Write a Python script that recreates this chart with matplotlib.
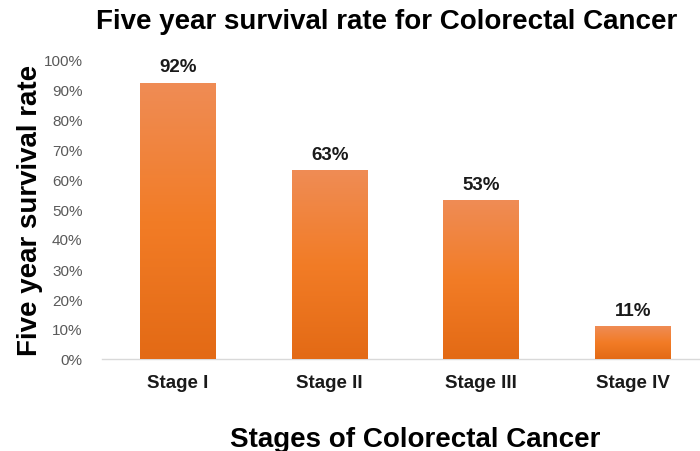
import matplotlib
matplotlib.use("Agg")
import matplotlib.pyplot as plt
import numpy as np
from matplotlib.colors import LinearSegmentedColormap
from matplotlib.ticker import PercentFormatter

categories = ["Stage I", "Stage II", "Stage III", "Stage IV"]
values = [92, 63, 53, 11]
labels = ["92%", "63%", "53%", "11%"]

plt.rcParams['font.family'] = ['Liberation Sans', 'DejaVu Sans']

fig = plt.figure(figsize=(7, 4.52), dpi=100)
ax = fig.add_axes([102/700, 1 - 360/452, 607/700, 300/452])

x = np.arange(len(categories))
bars = ax.bar(x, values, width=0.5, color="#F07A25", zorder=2)
cmap = LinearSegmentedColormap.from_list("g", ["#E36A15", "#F27C26", "#EF8C55"])
grad = np.linspace(0, 1, 256).reshape(-1, 1)
for i, b in enumerate(bars):
    bx, by = b.get_x(), b.get_y()
    w, h = b.get_width(), b.get_height()
    im = ax.imshow(grad, cmap=cmap, origin="lower", aspect="auto",
                   extent=[bx, bx + w, by, by + h], zorder=3)
    im.set_clip_path(b)
    ax.text(bx + w / 2, h + 2.5, labels[i], ha="center",
            va="bottom", fontsize=13.5, fontweight="bold", color="#1a1a1a")

ax.set_xlim(-0.5, 3.5)
ax.set_ylim(0, 100)
ax.set_yticks(np.arange(0, 101, 10))
ax.yaxis.set_major_formatter(PercentFormatter(decimals=0))
ax.set_xticks(x)
ax.set_xticklabels(categories, fontsize=13.5, fontweight="bold", color="#1a1a1a")
ax.tick_params(axis="y", labelsize=11, colors="#595959", length=0, pad=14)
ax.tick_params(axis="x", length=0, pad=11)
for s in ["top", "right", "left"]:
    ax.spines[s].set_visible(False)
ax.spines["bottom"].set_color("#D9D9D9")
ax.spines["bottom"].set_linewidth(1)

fig.text(387/700, 1 - 22/452, "Five year survival rate for Colorectal Cancer",
         ha="center", va="center", fontsize=20, fontweight="bold", color="black")
fig.text(30/700, 1 - 210/452, "Five year survival rate", rotation=90,
         ha="center", va="center", fontsize=20, fontweight="bold", color="black")
fig.text(415/700, 1 - 440/452, "Stages of Colorectal Cancer",
         ha="center", va="center", fontsize=20, fontweight="bold", color="black")

fig.savefig("out.png", dpi=100)
